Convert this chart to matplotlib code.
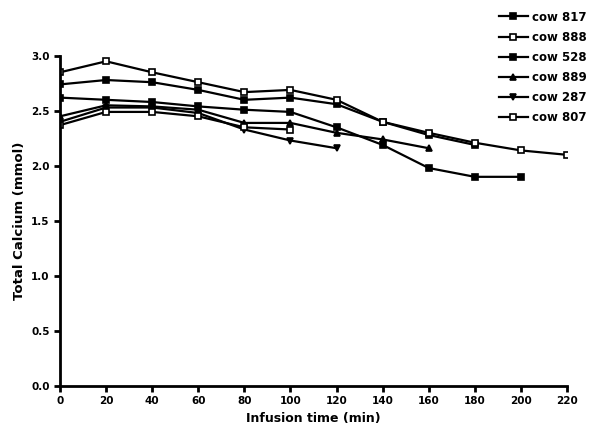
import numpy as np
import matplotlib
matplotlib.use('Agg')
import matplotlib.pyplot as plt

# infusion time (min) and total calcium (mmol) per cow
t = np.arange(0, 240, 20)

cows = ['cow 817', 'cow 888', 'cow 528', 'cow 889', 'cow 287', 'cow 807']
ca_817 = [2.74, 2.78, 2.76, 2.69, 2.60, 2.62, 2.56, 2.40, 2.28, 2.19]
ca_888 = [2.85, 2.95, 2.85, 2.76, 2.67, 2.69, 2.60, 2.40, 2.30, 2.21, 2.14, 2.10]
ca_528 = [2.62, 2.60, 2.58, 2.54, 2.51, 2.49, 2.35, 2.19, 1.98, 1.90, 1.90]
ca_889 = [2.45, 2.55, 2.54, 2.51, 2.39, 2.39, 2.30, 2.24, 2.16]
ca_287 = [2.40, 2.53, 2.53, 2.48, 2.33, 2.23, 2.16]
ca_807 = [2.37, 2.49, 2.49, 2.45, 2.35, 2.33]
series = [ca_817, ca_888, ca_528, ca_889, ca_287, ca_807]

markers = ['s', 's', 's', '^', 'v', 's']
fills = ['k', 'w', 'k', 'k', 'k', 'w']
msizes = [4, 4, 5, 5, 5, 4]

fig = plt.figure(figsize=(6, 4.36), dpi=100)
ax = fig.add_axes([0.1, 0.115, 0.845, 0.757])

for name, y, m, fc, ms in zip(cows, series, markers, fills, msizes):
    ax.plot(t[:len(y)], y, color='k', lw=1.6, marker=m, ms=ms,
            mfc=fc, mec='k', mew=1.2, label=name)

ax.set_xlim(0, 220)
ax.set_ylim(0, 3.0)
ax.set_xticks(np.arange(0, 240, 20))
ax.set_yticks(np.arange(0, 3.5, 0.5))
ax.set_yticklabels(['%.1f' % v for v in np.arange(0, 3.5, 0.5)])
ax.spines['top'].set_visible(False)
ax.spines['right'].set_visible(False)
ax.spines['left'].set_linewidth(2)
ax.spines['bottom'].set_linewidth(2)
ax.tick_params(direction='out', width=2, length=4, labelsize=7.5)
for lab in ax.get_xticklabels() + ax.get_yticklabels():
    lab.set_fontweight('bold')

ax.set_xlabel('Infusion time (min)', fontsize=9, fontweight='bold')
ax.set_ylabel('Total Calcium (mmol)', fontsize=9.5, fontweight='bold')

leg = fig.legend(loc='upper right', bbox_to_anchor=(0.995, 1.0), frameon=False,
                 fontsize=8.5, handlelength=2.5, labelspacing=0.6,
                 handletextpad=0.3)
for txt in leg.get_texts():
    txt.set_fontweight('bold')

fig.savefig('out.png', dpi=100)
